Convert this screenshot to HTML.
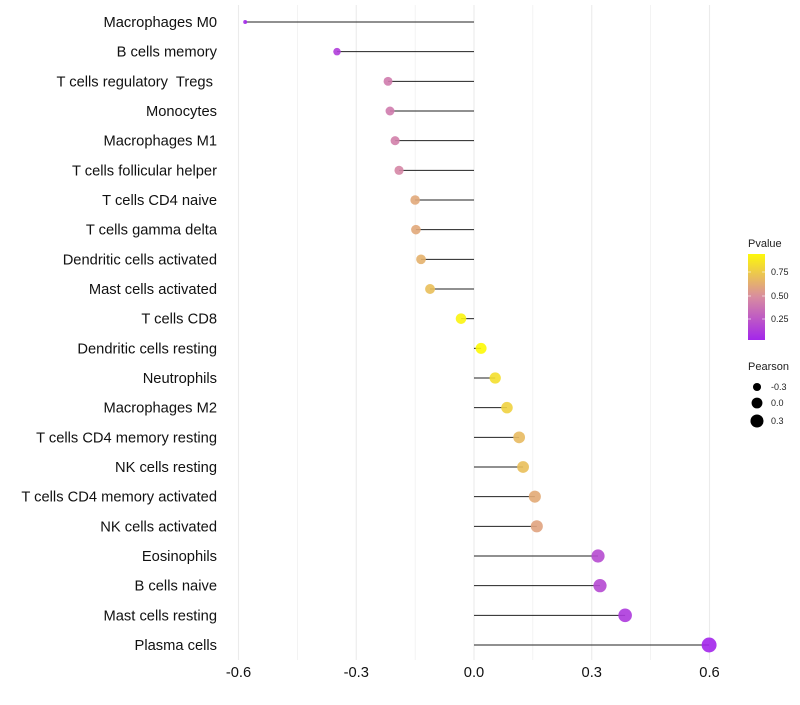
<!DOCTYPE html>
<html><head><meta charset="utf-8"><style>
body{margin:0;background:#fff;font-family:"Liberation Sans",sans-serif}
text{white-space:pre}
</style></head><body>
<svg id="c" width="800" height="700" xmlns="http://www.w3.org/2000/svg"></svg>
<script>
const categories=["Macrophages M0","B cells memory","T cells regulatory  Tregs ","Monocytes","Macrophages M1","T cells follicular helper","T cells CD4 naive","T cells gamma delta","Dendritic cells activated","Mast cells activated","T cells CD8","Dendritic cells resting","Neutrophils","Macrophages M2","T cells CD4 memory resting","NK cells resting","T cells CD4 memory activated","NK cells activated","Eosinophils","B cells naive","Mast cells resting","Plasma cells"];
const pearson=[-0.583,-0.349,-0.219,-0.214,-0.201,-0.191,-0.150,-0.148,-0.135,-0.112,-0.033,0.018,0.054,0.084,0.115,0.125,0.155,0.160,0.316,0.321,0.385,0.599];
const pvalue=[0.04,0.14,0.42,0.42,0.44,0.47,0.62,0.62,0.66,0.72,0.95,0.98,0.86,0.8,0.7,0.72,0.63,0.6,0.2,0.19,0.12,0.03];
const xTicks=[-0.6,-0.3,0.0,0.3,0.6];
const xTickLabels=["-0.6","-0.3","0.0","0.3","0.6"];
const NS="http://www.w3.org/2000/svg";
const svg=document.getElementById('c');
function el(t,a,p){const e=document.createElementNS(NS,t);for(const k in a)e.setAttribute(k,a[k]);(p||svg).appendChild(e);return e;}
const xS=v=>474+v*392.5;
const yS=i=>22+i*(623/21);
const rS=v=>Math.sqrt(Math.max(3,29.5+44*v));
function col(p){const s=[[0,[160,32,240]],[0.5,[216,140,160]],[1,[255,255,0]]];let i=p<0.5?0:1;const a=s[i],b=s[i+1];const t=(p-a[0])/(b[0]-a[0]);return 'rgb('+a[1].map((c,j)=>Math.round(c+(b[1][j]-c)*t)).join(',')+')';}
for(let v=-0.6;v<=0.601;v+=0.15){const g=el('line',{x1:xS(v),x2:xS(v),y1:5,y2:660,stroke:'#ebebeb','stroke-width':Math.abs(Math.round(v/0.15)%2)===1?0.6:1.1});

}
xTicks.forEach((v,i)=>{const t=el('text',{x:xS(v),y:677,'text-anchor':'middle','font-size':14.7,fill:'#111'});t.textContent=xTickLabels[i];

});
categories.forEach((c,i)=>{const y=yS(i);
const t=el('text',{x:217,y:y+5,'text-anchor':'end','font-size':14.7,fill:'#111'});t.textContent=c;


const l=el('line',{x1:xS(0),x2:xS(pearson[i]),y1:y,y2:y,stroke:'#222','stroke-width':1});


const d=el('circle',{cx:xS(pearson[i]),cy:y,r:rS(pearson[i]),fill:col(pvalue[i]),'fill-opacity':0.9});


});
const defs=el('defs',{});const lg=el('linearGradient',{id:'g',x1:0,y1:1,x2:0,y2:0},defs);
[[0,0.03],[0.5,0.5],[1,0.97]].forEach(([o,p])=>el('stop',{offset:o,'stop-color':col(p)},lg));
let t=el('text',{x:748,y:247,'font-size':11,fill:'#222'});t.textContent='Pvalue';

const bar=el('rect',{x:748,y:254,width:17,height:86,fill:'url(#g)'});

[[0.75,272],[0.5,296],[0.25,319]].forEach(([v,y])=>{el('line',{x1:748,x2:751,y1:y,y2:y,stroke:'#fff','stroke-width':0.6});el('line',{x1:762,x2:765,y1:y,y2:y,stroke:'#fff','stroke-width':0.6});
const s=el('text',{x:771,y:y+3,'font-size':9,fill:'#222'});s.textContent=v.toFixed(2);
});
t=el('text',{x:748,y:370,'font-size':11,fill:'#222'});t.textContent='Pearson';

[[-0.3,387],[0,403],[0.3,421]].forEach(([v,y])=>{el('circle',{cx:757,cy:y,r:rS(v),fill:'#000'});
const s=el('text',{x:771,y:y+3,'font-size':9,fill:'#222'});s.textContent=v.toFixed(1);
});
</script>
</body></html>
